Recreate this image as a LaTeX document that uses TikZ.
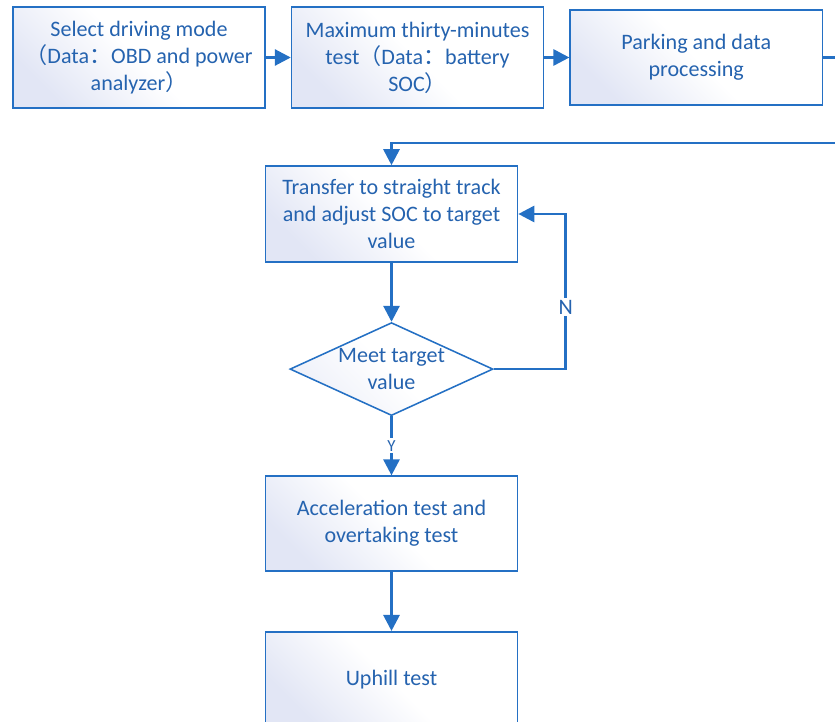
\documentclass[tikz,border=0pt]{standalone}
\usepackage{fontspec}
\setmainfont{Carlito}
\newfontfamily\cjkfont{Noto Sans CJK SC}
\newcommand{\fw}[1]{{\cjkfont #1}}
\usepackage{tikz}
\usetikzlibrary{positioning, arrows.meta, shapes.geometric}
\definecolor{lineblue}{RGB}{36,112,196}
\definecolor{textblue}{RGB}{37,99,175}
\definecolor{lav}{RGB}{226,230,245}

\begin{document}
\begin{tikzpicture}[
	x=0.025cm, y=-0.025cm,
	node distance=1.475cm and 0.625cm,
	stepbox/.style={
		rectangle,
		draw=lineblue,
		line width=1.1pt,
		top color=lav,
		bottom color=white,
		middle color=white,
		shading angle=135,
		minimum width=6.3cm,
		minimum height=2.4cm,
		align=center,
		text=textblue,
		font=\fontsize{15.7}{19.2}\selectfont
	},
	decision/.style={
		diamond,
		aspect=2.18,
		inner sep=0pt,
		draw=lineblue,
		line width=1.1pt,
		top color=lav!60,
		bottom color=white,
		middle color=white,
		shading angle=135,
		minimum width=5.075cm,
		minimum height=2.325cm,
		align=center,
		text=textblue,
		font=\fontsize{15.7}{19.2}\selectfont
	},
	flow/.style={
		-{Triangle[length=4mm,width=4mm]},
		line width=2pt,
		lineblue
	},
	tag/.style={
		fill=white,
		inner sep=1.5pt,
		text=textblue
	}
	]
	\path[use as bounding box, clip] (0,0) rectangle (835,722);
	\node[stepbox, minimum height=2.525cm] (mode) at (139,57.5)
	{Select driving mode\\\fw{（}Data\fw{：}OBD and power\\analyzer\fw{）}};
	\node[stepbox, minimum height=2.525cm, right=of mode] (soc)
	{Maximum thirty-minutes\\test\fw{（}Data\fw{：}battery\\SOC\fw{）}};
	\node[stepbox, minimum height=2.375cm, right=of soc] (park)
	{Parking and data\\processing};
	\node[stepbox] (trans) at (391.5,214)
	{Transfer to straight track\\and adjust SOC to target\\value};
	\node[decision, below=of trans] (meet) {Meet target\\value};
	\node[stepbox, minimum height=2.375cm, below=of meet] (accel)
	{Acceleration test and\\overtaking test};
	\node[stepbox, minimum height=2.375cm, below=of accel] (uphill)
	{Uphill test};
	\coordinate (far) at (870,143);
	\coordinate (back) at (trans.north |- far);
	\draw[flow] (mode) -- (soc);
	\draw[flow] (soc) -- (park);
	\draw[flow] (park.east) -| (far) -- (back) -- (trans.north);
	\draw[flow] (trans) -- (meet);
	\draw[flow] (meet) -- node[tag, font=\fontsize{12}{14}\selectfont]{Y} (accel);
	\draw[flow] (accel) -- (uphill);
	\draw[flow] (meet.east) -- ++(72,0) |- node[tag, pos=0.2,
	font=\fontsize{15.7}{19.2}\selectfont]{N} (trans.east);
\end{tikzpicture}
\end{document}
